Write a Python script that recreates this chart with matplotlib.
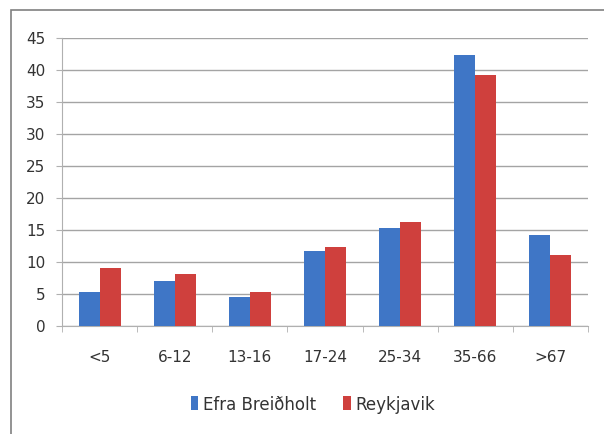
import matplotlib.pyplot as plt
from matplotlib.patches import Rectangle
import numpy as np

categories = ["<5", "6-12", "13-16", "17-24", "25-34", "35-66", ">67"]
efra = [5.3, 7.0, 4.4, 11.7, 15.3, 42.3, 14.1]
reykjavik = [9.0, 8.0, 5.2, 12.2, 16.2, 39.1, 11.0]
series_names = ["Efra Breiðholt", "Reykjavik"]
yticks = [0, 5, 10, 15, 20, 25, 30, 35, 40, 45]

blue = "#3f76c6"
red = "#cf403d"

plt.rcParams['font.family'] = ['DejaVu Sans']

fig = plt.figure(figsize=(6.04, 4.35), dpi=100)
# outer chart frame (cropped on right/bottom like the reference)
fig.patches.append(Rectangle((11 / 604, -0.05), 1.1, (435 - 11) / 435 + 0.05,
                             transform=fig.transFigure, fill=False,
                             edgecolor="#808080", linewidth=1.2))

ax = fig.add_axes([62 / 604, (435 - 326.5) / 435, 526 / 604, 288 / 435])

x = np.arange(len(categories))
w = 0.28
ax.bar(x - w / 2, efra, w, color=blue, label=series_names[0], zorder=3)
ax.bar(x + w / 2, reykjavik, w, color=red, label=series_names[1], zorder=3)

ax.set_xlim(-0.5, len(categories) - 0.5)
ax.set_ylim(0, 45)
ax.set_yticks(yticks)
ax.set_xticks(x)
ax.set_xticklabels(categories)
ax.set_xticks(np.arange(len(categories) + 1) - 0.5, minor=True)

ax.grid(axis="y", color="#a4a4a4", linewidth=1.0, zorder=0)
for s in ["top", "right"]:
    ax.spines[s].set_visible(False)
ax.spines["left"].set_color("#b0b0b0")
ax.spines["bottom"].set_color("#b0b0b0")

ax.tick_params(axis="y", length=4, color="#b0b0b0", pad=8, labelsize=11, labelcolor="#333333")
ax.tick_params(axis="x", which="major", length=0, pad=17, labelsize=11, labelcolor="#333333")
ax.tick_params(axis="x", which="minor", length=4, color="#b0b0b0")

ax.legend(loc="center", bbox_to_anchor=(313 / 604, 1 - 405 / 435), bbox_transform=fig.transFigure,
          ncol=2, frameon=False, fontsize=12, handlelength=0.45, handleheight=0.9,
          handletextpad=0.3, columnspacing=1.6, labelcolor="#333333")

fig.savefig("out.png", dpi=100)
